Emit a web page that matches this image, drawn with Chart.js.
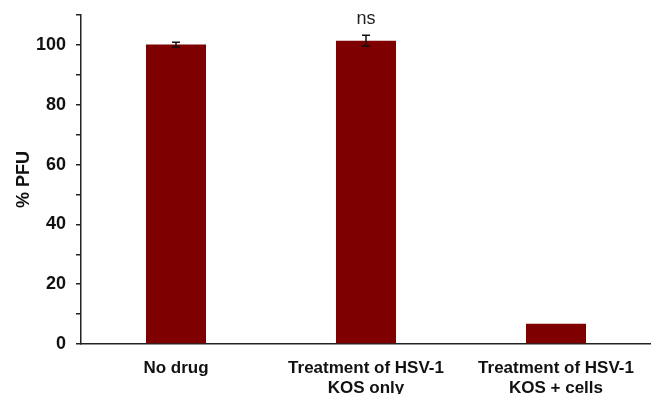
<!DOCTYPE html>
<html>
<head>
<meta charset="utf-8">
<script src="https://cdn.jsdelivr.net/npm/chart.js@4"></script>
<style>
  html, body { margin: 0; padding: 0; background: #fff; }
  #wrap { width: 651px; height: 394px; }
</style>
</head>
<body>
<div id="wrap"><canvas id="c" width="651" height="394"></canvas></div>
<script>
// Plaque-forming units relative to untreated control
const categories = [["No drug"], ["Treatment of HSV-1", "KOS only"], ["Treatment of HSV-1", "KOS + cells"]];
const pfuPercent = [100.1, 101.4, 6.8];
const pfuError = [0.8, 1.8, 0];
const significance = ["", "ns", ""];
const yTicks = [0, 20, 40, 60, 80, 100];

const FONT = "'Liberation Sans', Arial, Helvetica, sans-serif";

// Error bars and significance marks drawn from the bar values through the chart's scales
const errorBarPlugin = {
  id: 'errorBars',
  afterDatasetsDraw(chart) {
    const ctx = chart.ctx;
    const x = chart.scales.x, y = chart.scales.y;
    ctx.save();
    ctx.strokeStyle = '#111';
    ctx.lineWidth = 1.5;
    pfuPercent.forEach((v, i) => {
      const cx = x.getPixelForValue(i);
      const e = pfuError[i];
      if (e > 0) {
        const top = y.getPixelForValue(v + e);
        const bot = y.getPixelForValue(v - e);
        ctx.beginPath();
        ctx.moveTo(cx, top); ctx.lineTo(cx, bot);
        ctx.moveTo(cx - 4, top); ctx.lineTo(cx + 4, top);
        ctx.moveTo(cx - 4, bot); ctx.lineTo(cx + 4, bot);
        ctx.stroke();
      }
      if (significance[i]) {
        ctx.fillStyle = '#222';
        ctx.font = "18px " + FONT;
        ctx.textAlign = 'center';
        ctx.textBaseline = 'alphabetic';
        ctx.fillText(significance[i], cx, y.getPixelForValue(v + e) - 11);
      }
    });
    ctx.restore();
  }
};

new Chart(document.getElementById('c'), {
  type: 'bar',
  data: {
    labels: categories,
    datasets: [{
      data: pfuPercent,
      backgroundColor: '#7f0000',
      borderWidth: 0,
      barPercentage: 0.316,
      categoryPercentage: 1.0
    }]
  },
  options: {
    responsive: false,
    animation: false,
    layout: { padding: { top: 15, right: 0, left: 0, bottom: 0 } },
    plugins: { legend: { display: false }, tooltip: { enabled: false } },
    scales: {
      x: {
        afterFit(s) { s.height = 50; s.paddingLeft = 0; s.paddingRight = 0; },
        grid: { display: true, drawOnChartArea: false, drawTicks: false },
        border: { display: true, color: '#222', width: 1.5 },
        ticks: {
          color: '#111',
          font: { family: FONT, size: 17, weight: 'bold', lineHeight: 20 / 17 },
          padding: 14,
          maxRotation: 0,
          autoSkip: false
        }
      },
      y: {
        min: 0,
        max: 110,
        afterFit(s) { s.width = 81; s.paddingTop = 0; s.paddingBottom = 0; },
        afterBuildTicks(s) {
          s.ticks = [];
          for (let v = 0; v <= 110; v += 10) s.ticks.push({ value: v });
        },
        grid: { display: true, drawOnChartArea: false, drawTicks: true, tickLength: 5, color: '#222', lineWidth: 1.5 },
        border: { display: true, color: '#222', width: 1.5 },
        ticks: {
          color: '#111',
          font: { family: FONT, size: 18, weight: 'bold' },
          padding: 10,
          autoSkip: false,
          callback: (v) => yTicks.includes(v) ? String(v) : ''
        },
        title: {
          display: true,
          text: '% PFU',
          color: '#111',
          font: { family: FONT, size: 18, weight: 'bold' },
          padding: { top: 13, bottom: 0 }
        }
      }
    }
  },
  plugins: [errorBarPlugin]
});
</script>
</body>
</html>
